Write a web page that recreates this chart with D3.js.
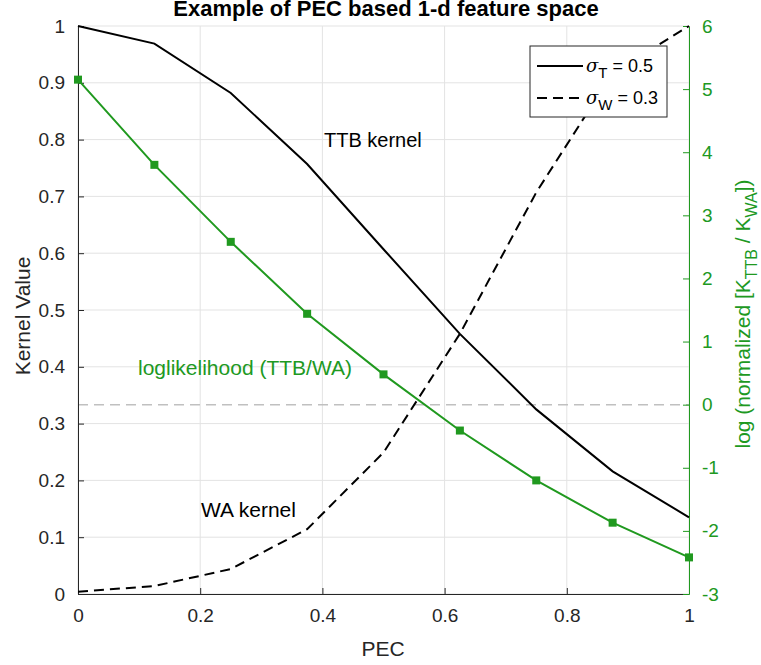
<!DOCTYPE html>
<html>
<head>
<meta charset="utf-8">
<script src="https://cdn.jsdelivr.net/npm/d3@7"></script>
<style>
  body { margin: 0; background: #fff; }
  text { font-family: "Liberation Sans", Arial, sans-serif; }
</style>
</head>
<body>
<svg id="chart" width="761" height="665"></svg>
<script>
  // data
  var pec = [0, 0.125, 0.25, 0.375, 0.5, 0.625, 0.75, 0.875, 1];
  var ttbKernel = [1.0, 0.969, 0.882, 0.757, 0.607, 0.458, 0.325, 0.216, 0.135];
  var waKernel = [0.004, 0.014, 0.044, 0.114, 0.249, 0.458, 0.707, 0.917, 1.0];
  var logLik = [5.15, 3.80, 2.58, 1.44, 0.48, -0.41, -1.20, -1.87, -2.42];
  var xTicks = [0, 0.2, 0.4, 0.6, 0.8, 1];
  var yLeftTicks = [0, 0.1, 0.2, 0.3, 0.4, 0.5, 0.6, 0.7, 0.8, 0.9, 1];
  var yRightTicks = [-3, -2, -1, 0, 1, 2, 3, 4, 5, 6];

  var green = "#20991f", axisCol = "#262626";
  var plotL = 78, plotR = 689, plotT = 26, plotB = 594;

  var svg = d3.select("#chart");

  var x = d3.scaleLinear().domain([0, 1]).range([plotL, plotR]);
  var yL = d3.scaleLinear().domain([0, 1]).range([plotB, plotT]);
  var yR = d3.scaleLinear().domain([-3, 6]).range([plotB, plotT]);

  // grid
  var grid = svg.append("g").attr("stroke", "#e3e3e3").attr("stroke-width", 1);
  grid.selectAll(".gx").data(xTicks).enter().append("line")
    .attr("x1", function(d) { return x(d); }).attr("x2", function(d) { return x(d); })
    .attr("y1", plotT).attr("y2", plotB);
  grid.selectAll(".gy").data(yLeftTicks).enter().append("line")
    .attr("x1", plotL).attr("x2", plotR)
    .attr("y1", function(d) { return yL(d); }).attr("y2", function(d) { return yL(d); });

  // zero line of right axis
  svg.append("line")
    .attr("x1", plotL).attr("x2", plotR)
    .attr("y1", yR(0)).attr("y2", yR(0))
    .attr("stroke", "#c0c0c0").attr("stroke-width", 1.5)
    .attr("stroke-dasharray", "10,6");

  // axes
  var xAxis = svg.append("g").attr("transform", "translate(0," + plotB + ")")
    .call(d3.axisBottom(x).tickValues(xTicks).tickSizeInner(-6).tickSizeOuter(0).tickPadding(15)
      .tickFormat(function(d) { return String(d); }));
  var yAxisL = svg.append("g").attr("transform", "translate(" + plotL + ",0)")
    .call(d3.axisLeft(yL).tickValues(yLeftTicks).tickSizeInner(-6).tickSizeOuter(0).tickPadding(13)
      .tickFormat(function(d) { return String(d); }));
  var yAxisR = svg.append("g").attr("transform", "translate(" + plotR + ",0)")
    .call(d3.axisRight(yR).tickValues(yRightTicks).tickSizeInner(-6).tickSizeOuter(0).tickPadding(13)
      .tickFormat(function(d) { return String(d); }));

  [xAxis, yAxisL].forEach(function(a) {
    a.select(".domain").attr("stroke", axisCol);
    a.selectAll(".tick line").attr("stroke", axisCol);
    a.selectAll(".tick text").attr("fill", axisCol).style("font-size", "19px")
      .style("font-family", "Liberation Sans, Arial, sans-serif");
  });
  yAxisR.select(".domain").attr("stroke", green);
  yAxisR.selectAll(".tick line").attr("stroke", green);
  yAxisR.selectAll(".tick text").attr("fill", green).style("font-size", "19px")
    .style("font-family", "Liberation Sans, Arial, sans-serif");

  // lines
  var lineL = d3.line()
    .x(function(d, i) { return x(pec[i]); })
    .y(function(d) { return yL(d); });
  var lineR = d3.line()
    .x(function(d, i) { return x(pec[i]); })
    .y(function(d) { return yR(d); });

  svg.append("path").attr("d", lineL(ttbKernel))
    .attr("fill", "none").attr("stroke", "#000").attr("stroke-width", 2);
  svg.append("path").attr("d", lineL(waKernel))
    .attr("fill", "none").attr("stroke", "#000").attr("stroke-width", 2)
    .attr("stroke-dasharray", "10,6");
  svg.append("path").attr("d", lineR(logLik))
    .attr("fill", "none").attr("stroke", green).attr("stroke-width", 2);
  svg.selectAll(".mk").data(logLik).enter().append("rect")
    .attr("x", function(d, i) { return x(pec[i]) - 4; })
    .attr("y", function(d) { return yR(d) - 4; })
    .attr("width", 8).attr("height", 8)
    .attr("fill", green);

  // annotations
  svg.append("text").attr("x", 324).attr("y", 147).style("font-size", "20px")
    .attr("fill", "#000").text("TTB kernel");
  svg.append("text").attr("x", 201).attr("y", 517).style("font-size", "21px")
    .attr("fill", "#000").text("WA kernel");
  svg.append("text").attr("x", 138).attr("y", 375).style("font-size", "21px")
    .attr("fill", green).text("loglikelihood (TTB/WA)");

  // title and axis labels
  svg.append("text").attr("x", 386).attr("y", 16).attr("text-anchor", "middle")
    .style("font-size", "22px").style("font-weight", "bold").attr("fill", "#000")
    .text("Example of PEC based 1-d feature space");
  svg.append("text").attr("x", 383).attr("y", 656).attr("text-anchor", "middle")
    .style("font-size", "21px").attr("fill", axisCol).text("PEC");
  svg.append("text").attr("transform", "translate(30,316) rotate(-90)")
    .attr("text-anchor", "middle").style("font-size", "21px").attr("fill", axisCol)
    .text("Kernel Value");

  var rl = svg.append("text").attr("transform", "translate(750,314) rotate(-90)")
    .attr("text-anchor", "middle").style("font-size", "21px").attr("fill", green);
  rl.append("tspan").text("log (normalized [K");
  rl.append("tspan").attr("dy", 7).style("font-size", "16px").text("TTB");
  rl.append("tspan").attr("dy", -7).text(" / K");
  rl.append("tspan").attr("dy", 7).style("font-size", "16px").text("WA");
  rl.append("tspan").attr("dy", -7).text("])");

  // legend
  var lg = svg.append("g").attr("transform", "translate(530,46)");
  lg.append("rect").attr("width", 137).attr("height", 71)
    .attr("fill", "#fff").attr("stroke", axisCol).attr("stroke-width", 1);
  var entries = [
    { dash: null, sym: "T", val: "0.5" },
    { dash: "10,6", sym: "W", val: "0.3" }
  ];
  entries.forEach(function(e, i) {
    var cy = 20 + i * 32;
    lg.append("line").attr("x1", 7).attr("x2", 53).attr("y1", cy).attr("y2", cy)
      .attr("stroke", "#000").attr("stroke-width", 2)
      .attr("stroke-dasharray", e.dash);
    var t = lg.append("text").attr("x", 56).attr("y", cy + 6)
      .style("font-size", "18px").attr("fill", "#000");
    t.append("tspan").style("font-style", "italic").style("font-family", "DejaVu Serif, serif").text("σ");
    t.append("tspan").attr("dy", 6).style("font-size", "15px").text(e.sym);
    t.append("tspan").attr("dy", -6).text(" = " + e.val);
  });
</script>
</body>
</html>
